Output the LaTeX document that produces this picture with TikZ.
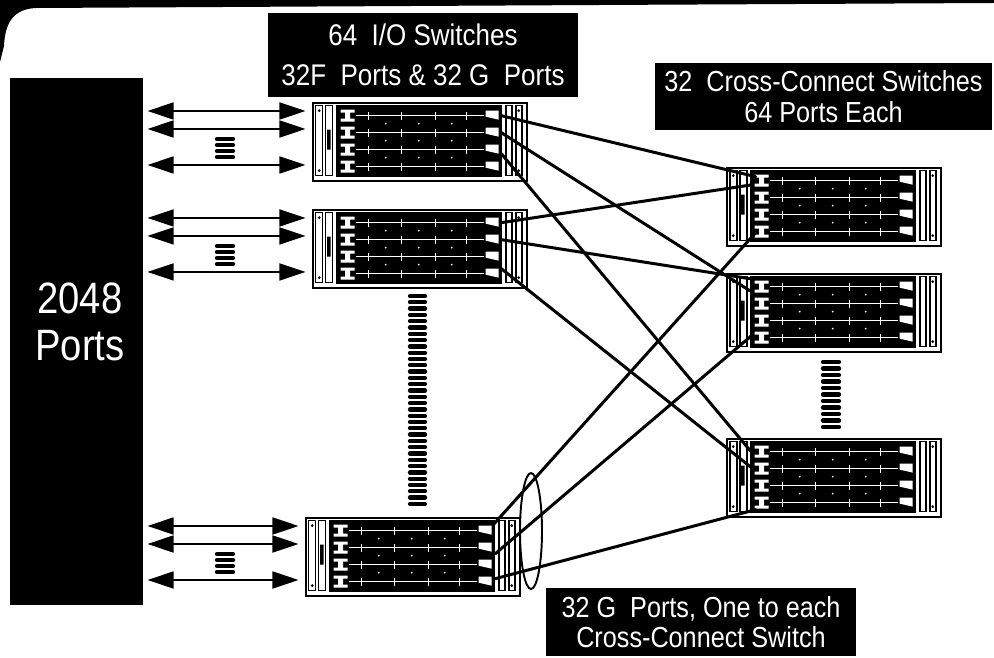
\documentclass[tikz,border=0pt]{standalone}
\usepackage{fontspec}
\newfontfamily\capfont[FakeStretch=0.87]{Liberation Sans}
\usetikzlibrary{positioning}
\usetikzlibrary{calc}
\usetikzlibrary{arrows.meta}
\usetikzlibrary{shapes.geometric}
\tikzset{
	caption/.style = {fill=black, text=white, align=center, inner sep=0pt},
	rack/.style = {draw, line width=1.5pt, fill=white, inner sep=0pt,
		minimum width=4.28cm, minimum height=1.56cm},
	duplex/.style = {{Triangle[length=15pt,width=9.5pt]}-{Triangle[length=15pt,width=9.5pt]}, line width=1.6pt},
	link/.style = {line width=1.7pt, line cap=round},
	bar/.style = {line width=2.4pt, line cap=round},
	% front of one rack chassis, origin at its top left corner
	rackface/.pic = {
		% handles on the left
		\draw[line width=0.9pt] (4,4) rectangle (11,74) (14,4) rectangle (21,74);
		\fill (7.5,9) circle (1.5) (7.5,69) circle (1.5) (15.5,28) rectangle (19,48);
		% panel with four card rows
		\fill (24,3) rectangle (190,75);
		\foreach \yy in {14,31,48,65} {
			\draw[white, line width=0.8pt] (44,\yy) -- (172,\yy);
			\fill[white] (29,\yy-6) rectangle (43,\yy-3) (29,\yy+3) rectangle (43,\yy+6)
				(33.5,\yy-3) rectangle (38.5,\yy+3);
			\fill[white] (174,\yy-5) -- (187,\yy-5) -- (187,\yy+4) -- (174,\yy+1) -- cycle;
			\foreach \xx in {57,90,124,155}
				\draw[white, line width=0.8pt] (\xx,\yy-4) -- (\xx,\yy+4);
		}
		\foreach \xx in {74,107,140}
			\foreach \yy in {22,39,56}
				\fill[white] (\xx,\yy) circle (1);
		% handles on the right
		\draw[line width=0.9pt] (194,4) rectangle (200,74) (204,4) rectangle (210,74);
		\fill (207,9) circle (1.5) (207,69) circle (1.5);
	}}

\begin{document}
\begin{tikzpicture}[x=0.02cm, y=-0.02cm, node distance=2.14cm, on grid]
    \useasboundingbox (0,0) rectangle (994,658);
    % edge of the slide along the top
    \fill (0,0) -- (994,0) -- (994,3) -- (600,5) -- (36,8) .. controls (14,9) and (5,22) .. (4,46) -- (0,62) -- cycle;

    \node[caption, minimum width=2.66cm, minimum height=10.54cm] (ports) at (76.5,341.5) {};
    \node[caption, font=\capfont\fontsize{25}{27}\selectfont] (portsname) at (80,322) {2048\\Ports};

    % I/O switches and cross-connect switches
    \node[rack] (io1) at (420,142) {};
    \node[rack] (io2) [below=of io1] {};
    \node[rack] (io3) at (413,557) {};
    \node[rack] (cc1) at (834,207) {};
    \node[rack] (cc2) [below=2.12cm of cc1] {};
    \node[rack] (cc3) [below=3.3cm of cc2] {};
    \foreach \sw in {io1,io2,io3,cc1,cc2,cc3}
      \pic at (\sw.north west) {rackface};

    \node[caption, font=\capfont\fontsize{17}{23}\selectfont, minimum width=6.2cm, minimum height=1.7cm]
      (iotitle) at (423,55) {64~~I/O Switches\\32F~~Ports \& 32 G~~Ports};
    \node[caption, font=\capfont\fontsize{16.5}{17.5}\selectfont, minimum width=6.74cm, minimum height=1.34cm]
      (cctitle) at (823.5,96.5) {32~~Cross-Connect Switches\\64 Ports Each};
    \node[caption, font=\capfont\fontsize{16.5}{17}\selectfont, minimum width=6.2cm, minimum height=1.36cm]
      (bundletitle) at (701,622) {32 G~~Ports, One to each\\Cross-Connect Switch};

    % port links, three shown per I/O switch
    \coordinate (gapx) at (225,0);
    \foreach \sw in {io1,io2,io3} {
      \foreach \dy in {-31,-13,23}
        \draw[duplex] ($(ports.east |- \sw.west)+(4,\dy)$) -- ($(\sw.west)+(-6,\dy)$);
      \foreach \k in {-3,3,9,15}
        \draw[bar] ($(gapx |- \sw.west)+(-8,\k)$) -- ++(16,0);
    }
    \foreach \k in {0,...,33}
      \draw[bar] (410,296+6.3*\k) -- (425,296+6.3*\k);
    \foreach \k in {0,...,10}
      \draw[bar] (823,362+6.5*\k) -- (839,362+6.5*\k);

    % every I/O switch goes to every cross-connect switch
    \draw[link] ($(io1.north east)+(-27,14)$) -- ($(cc1.north west)+(30,10)$);
    \draw[link] ($(io1.north east)+(-27,31)$) -- ($(cc2.north west)+(24,18)$);
    \draw[link] ($(io1.north east)+(-27,52)$) -- ($(cc3.north west)+(27,16)$);
    \draw[link] ($(io2.north east)+(-27,14)$) -- ($(cc1.north west)+(27,18)$);
    \draw[link] ($(io2.north east)+(-27,31)$) -- ($(cc2.north west)+(24,6)$);
    \draw[link] ($(io2.north east)+(-27,60)$) -- ($(cc3.north west)+(27,31)$);
    \draw[link] ($(io3.north east)+(-28,8)$) -- ($(cc1.north west)+(29,67)$);
    \draw[link] ($(io3.north east)+(-26,37)$) -- ($(cc2.north west)+(27,62)$);
    \draw[link] ($(io3.north east)+(-26,62)$) -- ($(cc3.north west)+(30,72)$);

    \node[draw, ellipse, line width=1.1pt, minimum width=0.44cm, minimum height=2.32cm, inner sep=0pt] (bundle) at (531,531) {};
\end{tikzpicture}
\end{document}
